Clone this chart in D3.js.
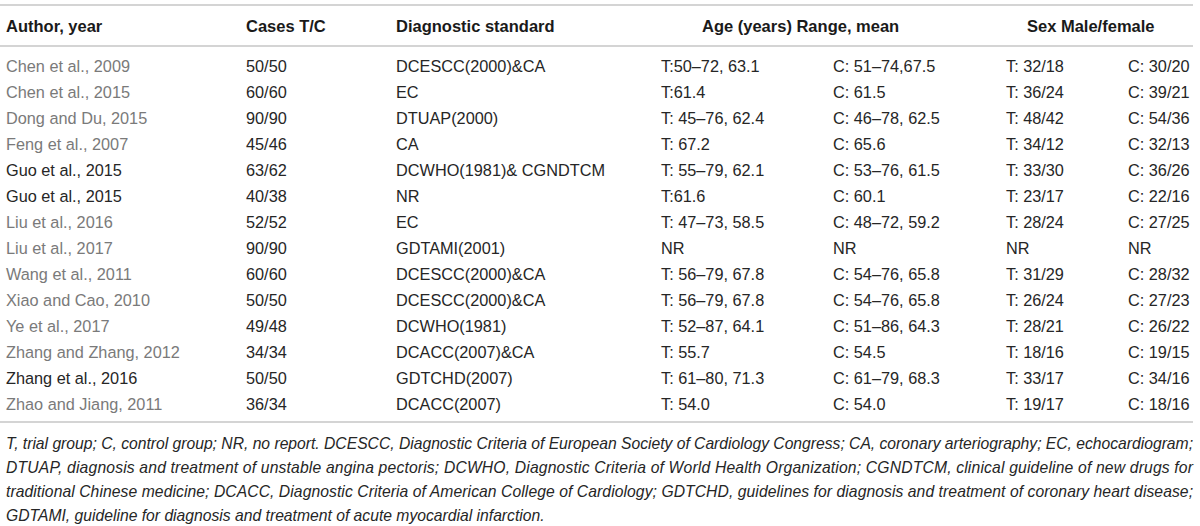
<!DOCTYPE html>
<html>
<head>
<meta charset="utf-8">
<script src="https://cdn.jsdelivr.net/npm/d3@7"></script>
<style>
  body { margin: 0; background: #fff; }
  text { font-family: "Liberation Sans", Arial, sans-serif; }
</style>
</head>
<body>
<div id="table1"></div>
<script>
// table data
const authors = [
  "Chen et al., 2009", "Chen et al., 2015", "Dong and Du, 2015", "Feng et al., 2007",
  "Guo et al., 2015", "Guo et al., 2015", "Liu et al., 2016", "Liu et al., 2017",
  "Wang et al., 2011", "Xiao and Cao, 2010", "Ye et al., 2017", "Zhang and Zhang, 2012",
  "Zhang et al., 2016", "Zhao and Jiang, 2011"
];
// linked authors are grey in the source, plain ones are dark
const authorDark = [false, false, false, false, true, true, false, false, false, false, false, false, true, false];
const cases = ["50/50", "60/60", "90/90", "45/46", "63/62", "40/38", "52/52", "90/90", "60/60", "50/50", "49/48", "34/34", "50/50", "36/34"];
const standards = [
  "DCESCC(2000)&CA", "EC", "DTUAP(2000)", "CA", "DCWHO(1981)& CGNDTCM", "NR", "EC",
  "GDTAMI(2001)", "DCESCC(2000)&CA", "DCESCC(2000)&CA", "DCWHO(1981)", "DCACC(2007)&CA",
  "GDTCHD(2007)", "DCACC(2007)"
];
const ageT = [
  "T:50–72, 63.1", "T:61.4", "T: 45–76, 62.4", "T: 67.2", "T: 55–79, 62.1", "T:61.6",
  "T: 47–73, 58.5", "NR", "T: 56–79, 67.8", "T: 56–79, 67.8", "T: 52–87, 64.1", "T: 55.7",
  "T: 61–80, 71.3", "T: 54.0"
];
const ageC = [
  "C: 51–74,67.5", "C: 61.5", "C: 46–78, 62.5", "C: 65.6", "C: 53–76, 61.5", "C: 60.1",
  "C: 48–72, 59.2", "NR", "C: 54–76, 65.8", "C: 54–76, 65.8", "C: 51–86, 64.3", "C: 54.5",
  "C: 61–79, 68.3", "C: 54.0"
];
const sexT = ["T: 32/18", "T: 36/24", "T: 48/42", "T: 34/12", "T: 33/30", "T: 23/17", "T: 28/24", "NR", "T: 31/29", "T: 26/24", "T: 28/21", "T: 18/16", "T: 33/17", "T: 19/17"];
const sexC = ["C: 30/20", "C: 39/21", "C: 54/36", "C: 32/13", "C: 36/26", "C: 22/16", "C: 27/25", "NR", "C: 28/32", "C: 27/23", "C: 26/22", "C: 19/15", "C: 34/16", "C: 18/16"];

const headers = ["Author, year", "Cases T/C", "Diagnostic standard", "Age (years) Range, mean", "Sex Male/female"];
const footnote = [
  "T, trial group; C, control group; NR, no report. DCESCC, Diagnostic Criteria of European Society of Cardiology Congress; CA, coronary arteriography; EC, echocardiogram;",
  "DTUAP, diagnosis and treatment of unstable angina pectoris; DCWHO, Diagnostic Criteria of World Health Organization; CGNDTCM, clinical guideline of new drugs for",
  "traditional Chinese medicine; DCACC, Diagnostic Criteria of American College of Cardiology; GDTCHD, guidelines for diagnosis and treatment of coronary heart disease;",
  "GDTAMI, guideline for diagnosis and treatment of acute myocardial infarction."
];

const width = 1200;
const height = 526;
const left = 6;
const right = 1193;

const svg = d3.select("#table1")
  .append("svg")
  .attr("width", width)
  .attr("height", height);

const columns = ["author", "cases", "standard", "ageT", "ageC", "sexT", "sexC"];
const colX = d3.scaleOrdinal()
  .domain(columns)
  .range([left, 246, 396, 661, 833, 1006, 1128]);

const rows = authors.map((a, i) => ({
  author: a, dark: authorDark[i], cases: cases[i], standard: standards[i],
  ageT: ageT[i], ageC: ageC[i], sexT: sexT[i], sexC: sexC[i]
}));

const y = d3.scalePoint()
  .domain(d3.range(rows.length))
  .range([66, 404]);

// rules
const lineY = [5, 46, 422];
svg.append("g")
  .selectAll("line")
  .data(lineY)
  .join("line")
  .attr("x1", 0)
  .attr("x2", right)
  .attr("y1", (d) => d)
  .attr("y2", (d) => d)
  .attr("stroke", "#d4d4d4")
  .attr("stroke-width", 2);

// header
const headerX = [left, 246, 396, 702, 1027];
svg.append("g")
  .selectAll("text")
  .data(headers)
  .join("text")
  .attr("x", (d, i) => headerX[i])
  .attr("y", 26)
  .attr("dy", "0.35em")
  .attr("font-size", 16.5)
  .attr("font-weight", "bold")
  .attr("fill", "#1a1a1a")
  .text((d) => d);

// body
const row = svg.append("g")
  .selectAll("g")
  .data(rows)
  .join("g")
  .attr("transform", (d, i) => `translate(0,${y(i)})`);

row.selectAll("text")
  .data((d) => columns.map((c) => ({ col: c, value: d[c], dark: d.dark })))
  .join("text")
  .attr("x", (d) => colX(d.col))
  .attr("dy", "0.35em")
  .attr("font-size", 16.3)
  .attr("fill", (d) => (d.col === "author" && !d.dark ? "#7a7a7a" : "#262626"))
  .text((d) => d.value);

// footnote, justified like the source except the last line
const note = svg.append("g")
  .selectAll("text")
  .data(footnote)
  .join("text")
  .attr("x", left)
  .attr("y", (d, i) => 444 + i * 24)
  .attr("dy", "0.35em")
  .attr("font-size", 15.7)
  .attr("font-style", "italic")
  .attr("fill", "#262626")
  .text((d) => d);

note.filter((d, i) => i < footnote.length - 1)
  .attr("textLength", right - left)
  .attr("lengthAdjust", "spacing");
</script>
</body>
</html>
